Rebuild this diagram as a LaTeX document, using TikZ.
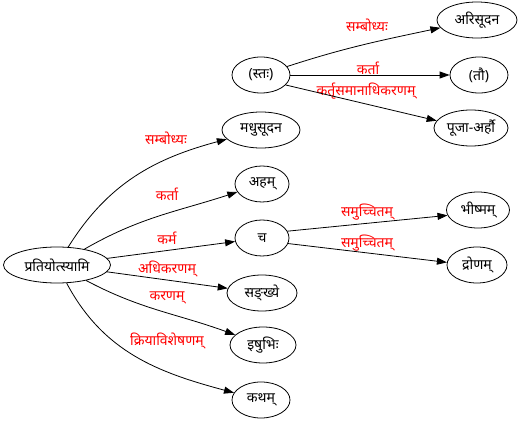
\documentclass[tikz,border=0pt]{standalone}
\usepackage{fontspec}
\newfontfamily\deva[Script=Devanagari]{Noto Sans}
\usetikzlibrary{shapes.geometric,arrows.meta}
\tikzset{
  nd/.style={draw,line width=0.8pt,ellipse,inner sep=0pt,minimum height=36pt,font=\deva\fontsize{14}{16}\selectfont},
  lbl/.style={text=red,inner sep=0pt,font=\deva\fontsize{14}{16}\selectfont},
  ed/.style={draw,line width=0.8pt,-{Triangle[length=10pt,width=7pt]}}
}
\begin{document}
\begin{tikzpicture}[x=1pt,y=-1pt]
\useasboundingbox (0,0) rectangle (523,422);
\node[nd,minimum width=107pt] (p) at (57,265) {प्रतियोत्स्यामि};
\node[nd,minimum width=58pt] (st) at (261,75) {(स्तः)};
\node[nd,minimum width=78pt] (m) at (261,130) {मधुसूदन};
\node[nd,minimum width=54pt] (a) at (262,184) {अहम्};
\node[nd,minimum width=54pt] (c) at (262,238) {च};
\node[nd,minimum width=70pt] (s) at (262,293) {सङ्ख्ये};
\node[nd,minimum width=66pt] (i) at (263,345) {इषुभिः};
\node[nd,minimum width=58pt] (k) at (261,400) {कथम्};
\node[nd,minimum width=80pt] (ari) at (477,20) {अरिसूदन};
\node[nd,minimum width=58pt] (tau) at (479,75) {(तौ)};
\node[nd,minimum width=74pt] (puja) at (471,128) {पूजा-अर्हौ};
\node[nd,minimum width=63pt] (bh) at (478,210) {भीष्मम्};
\node[nd,minimum width=60pt] (dr) at (477,265) {द्रोणम्};

\node[lbl] (l1) at (367,25) {सम्बोध्यः};
\node[lbl] (l2) at (368,68) {कर्ता};
\node[lbl] (l3) at (366,91) {कर्तृसमानाधिकरणम्};
\node[lbl] (l4) at (166,138) {सम्बोध्यः};
\node[lbl] (l5) at (167,194) {कर्ता};
\node[lbl] (l6) at (167,238) {कर्म};
\node[lbl] (l7) at (167,269) {अधिकरणम्};
\node[lbl] (l8) at (167,298) {करणम्};
\node[lbl] (l9) at (167,341) {क्रियाविशेषणम्};
\node[lbl] (l10) at (367,212) {समुच्चितम्};
\node[lbl] (l11) at (367,243) {समुच्चितम्};

\path[ed] (p) to[out=58,in=195] (m);
\path[ed] (p) to[out=30,in=198] (a);
\path[ed] (p) -- (c);
\path[ed] (p) -- (s);
\path[ed] (p) to[out=-28,in=160] (i);
\path[ed] (p) to[out=-62,in=165] (k);
\path[ed] (st) to[out=18,in=192] (ari);
\path[ed] (st) -- (tau);
\path[ed] (st.-22) -- (puja.168);
\path[ed] (c.15) -- (bh.190);
\path[ed] (c.-12) -- (dr.175);
\end{tikzpicture}
\end{document}
